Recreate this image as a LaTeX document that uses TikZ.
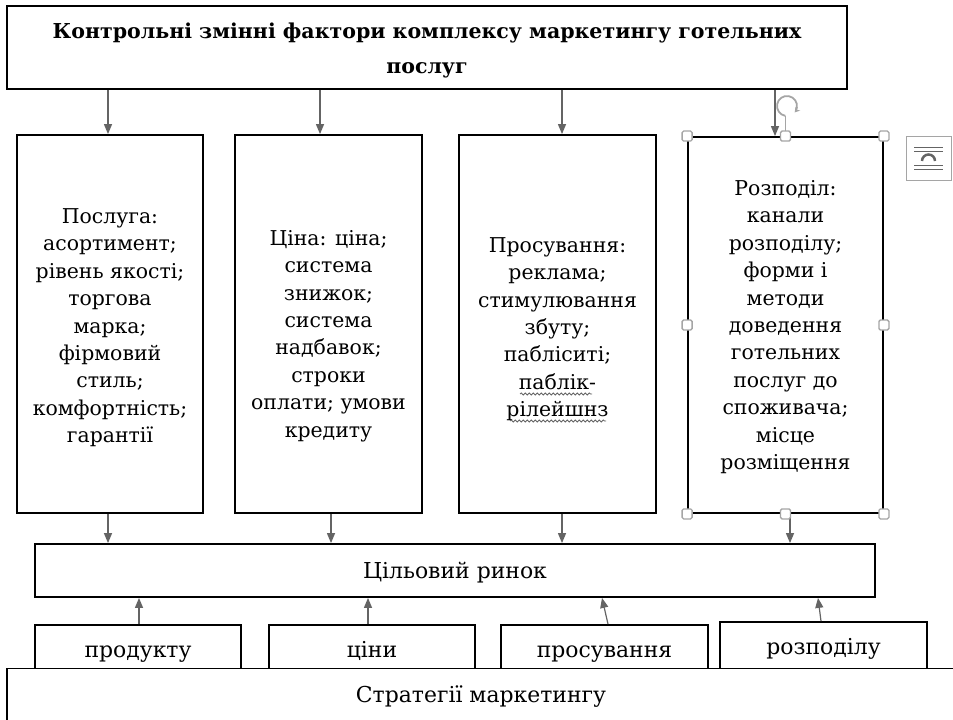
\documentclass[tikz,border=0pt]{standalone}
\usepackage{fontspec}
\setmainfont{DejaVu Serif}
\usetikzlibrary{arrows.meta,decorations.pathmorphing}
\definecolor{arrgray}{RGB}{100,100,100}
\definecolor{hgray}{RGB}{165,165,165}
\newcommand\firstln[1]{\rule{0pt}{#1}}
\newcommand\lastln{\rule[-8bp]{0pt}{8bp}}
\begin{document}
\begin{tikzpicture}[x=1bp,y=-1bp,
  box/.style={draw=black,line width=1.8bp,rectangle,inner sep=0pt,align=center,fill=white},
  arr/.style={draw=arrgray,line width=1.2bp,-{Triangle[length=10bp,width=8bp,fill=arrgray]}},
  midtext/.style={font=\fontsize{20.5}{27.5}\selectfont},
  lowtext/.style={font=\fontsize{22}{25}\selectfont,text depth=0bp},
  squig/.style={arrgray,line width=0.8bp,decorate,decoration={snake,amplitude=1bp,segment length=4bp}},
  handle/.style={draw=hgray,fill=white,rounded corners=1.5bp,minimum size=10bp,inner sep=0pt,line width=1.3bp}]
\useasboundingbox (0,0) rectangle (953,720);

\node[box,minimum width=840bp,minimum height=83bp,font=\bfseries\fontsize{20.6}{36}\selectfont] (top) at (427,47.5)
  {\firstln{25bp}Контрольні змінні фактори комплексу маркетингу готельних\\послуг\lastln};

\node[box,midtext,minimum width=186bp,minimum height=378bp] (b1) at (110,324)
  {\firstln{26bp}Послуга:\\асортимент;\\рівень якості;\\торгова\\марка;\\фірмовий\\стиль;\\комфортність;\\гарантії\lastln};
\node[box,midtext,minimum width=187bp,minimum height=378bp] (b2) at (328.5,324)
  {\firstln{42.5bp}Ціна: ціна;\\система\\знижок;\\система\\надбавок;\\строки\\оплати; умови\\кредиту\lastln};
\node[box,midtext,minimum width=197bp,minimum height=378bp] (b3) at (557.5,324)
  {\firstln{29bp}Просування:\\реклама;\\стимулювання\\збуту;\\пабліситі;\\паблік-\\рілейшнз\lastln};
\node[box,midtext,minimum width=195bp,minimum height=376bp] (b4) at (785.5,325)
  {\firstln{23bp}Розподіл:\\канали\\розподілу;\\форми і\\методи\\доведення\\готельних\\послуг до\\споживача;\\місце\\розміщення\lastln};

\node[box,lowtext,text height=15bp,minimum width=840bp,minimum height=53bp] (ts) at (455,570.5) {Цільовий ринок};

\node[box,lowtext,text height=19bp,minimum width=206bp,minimum height=45bp] (p1) at (138,647.5) {продукту};
\node[box,lowtext,text height=19bp,minimum width=206bp,minimum height=45bp] (p2) at (372,647.5) {ціни};
\node[box,lowtext,text height=19bp,minimum width=207bp,minimum height=45bp] (p3) at (604.5,647.5) {просування};
\node[box,lowtext,text height=16bp,minimum width=207bp,minimum height=48bp] (p4) at (823.5,646) {розподілу};

\node[box,lowtext,text height=13bp,minimum width=948bp,minimum height=54bp] (st) at (481,695.5) {Стратегії маркетингу};

% arrows from title to factor boxes
\draw[arr] ([xshift=-2bp]b1.north |- top.south) -- ([xshift=-2bp]b1.north);
\draw[arr] ([xshift=-8.5bp]b2.north |- top.south) -- ([xshift=-8.5bp]b2.north);
\draw[arr] ([xshift=4.5bp]b3.north |- top.south) -- ([xshift=4.5bp]b3.north);
\draw[arr] ([xshift=-10.5bp]b4.north |- top.south) -- ([xshift=-10.5bp]b4.north);
% arrows from factor boxes to target market
\draw[arr] ([xshift=-2bp]b1.south) -- ([xshift=-2bp]b1.south |- ts.north);
\draw[arr] ([xshift=2.5bp]b2.south) -- ([xshift=2.5bp]b2.south |- ts.north);
\draw[arr] ([xshift=4.5bp]b3.south) -- ([xshift=4.5bp]b3.south |- ts.north);
\draw[arr] ([xshift=4.5bp]b4.south) -- ([xshift=4.5bp]b4.south |- ts.north);
% arrows from strategies to target market
\draw[arr] ([xshift=1bp]p1.north) -- ([xshift=1bp]p1.north |- ts.south);
\draw[arr] ([xshift=-4bp]p2.north) -- ([xshift=-4bp]p2.north |- ts.south);
\draw[arr] ([xshift=3.5bp]p3.north) -- ([xshift=-2.5bp]p3.north |- ts.south);
\draw[arr] ([xshift=-2.5bp]p4.north) -- ([xshift=-5.5bp]p4.north |- ts.south);

% spell-check squiggles
\draw[squig] (520,394) -- (592,394);
\draw[squig] (510,421) -- (606,421);

% selection handles
\draw[hgray,line width=1bp] (b4.north) -- ++(0,-20);
\draw[hgray,line width=1.8bp,-{Stealth[length=5bp,width=6bp]}] (787,106) ++(100:10) arc[start angle=100,end angle=400,radius=10];
\foreach \a in {north west,north,north east,west,east,south west,south,south east}
  \node[handle] at (b4.\a) {};

% layout options icon
\draw[hgray,line width=1bp] (906,137) rectangle (951,180);
\foreach \yy in {147,151,165,169} \draw[arrgray,line width=0.8bp] (914,\yy) -- (943,\yy);
\draw[arrgray,line width=2.5bp] (922,161) arc[start angle=180,end angle=360,radius=6.5];
\end{tikzpicture}
\end{document}
